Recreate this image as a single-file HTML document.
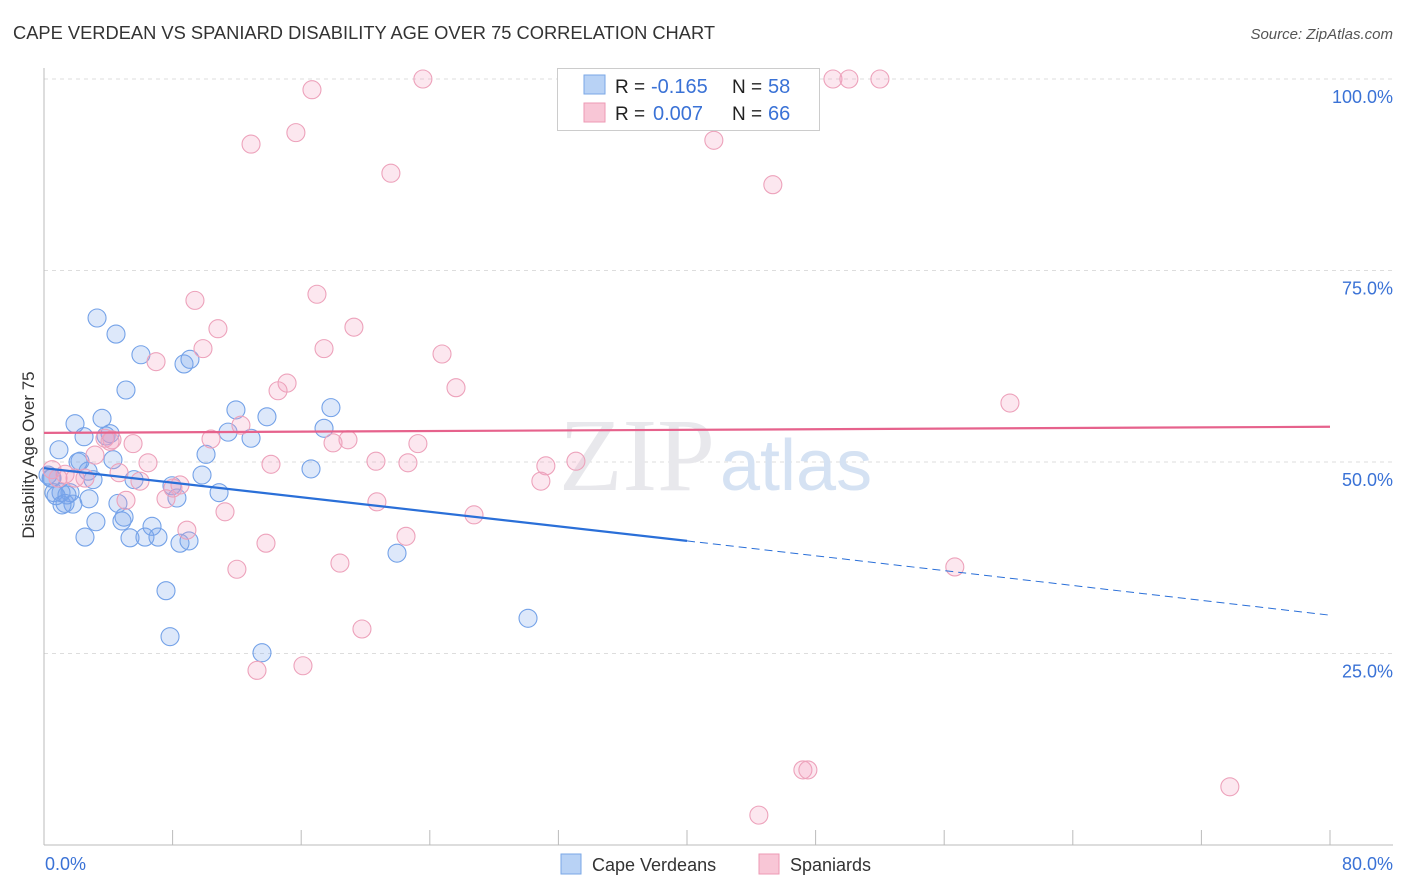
<!DOCTYPE html>
<html><head><meta charset="utf-8"><style>
body{margin:0;background:#fff;font-family:"Liberation Sans",sans-serif;}
svg{display:block}
</style></head><body>
<svg id="chart" width="1406" height="892" xmlns="http://www.w3.org/2000/svg">
<text x="13" y="39" font-size="18.3" fill="#333" textLength="702">CAPE VERDEAN VS SPANIARD DISABILITY AGE OVER 75 CORRELATION CHART</text>
<text x="1393" y="39" font-size="15" fill="#555" text-anchor="end" font-style="italic">Source: ZipAtlas.com</text>
<text transform="translate(34,455) rotate(-90)" font-size="17" fill="#333" text-anchor="middle">Disability Age Over 75</text>
<g id="grid"></g>
<text x="715" y="490" font-size="104" fill="#e8e8ec" text-anchor="end" font-family="Liberation Serif,serif">ZIP</text>
<text x="720" y="490" font-size="72" fill="#d5e2f3">atlas</text>
<g id="marks"></g>
<g>
<rect x="557.5" y="68.5" width="262" height="62" fill="#fff" stroke="#ccc"/>
<rect x="584" y="75" width="21" height="19" fill="#b8d2f5" stroke="#7aa7e6"/>
<rect x="584" y="103" width="21" height="19" fill="#f8c6d6" stroke="#ee9ab4"/>
<text x="615" y="93" font-size="19" fill="#222">R = </text><text x="651" y="93" font-size="20" fill="#3a72d6">-0.165</text>
<text x="732" y="93" font-size="19" fill="#222">N = </text><text x="768" y="93" font-size="20" fill="#3a72d6">58</text>
<text x="615" y="120" font-size="19" fill="#222">R = </text><text x="653" y="120" font-size="20" fill="#3a72d6">0.007</text>
<text x="732" y="120" font-size="19" fill="#222">N = </text><text x="768" y="120" font-size="20" fill="#3a72d6">66</text>
</g>
<g>
<rect x="561" y="854" width="20" height="20" fill="#b8d2f5" stroke="#7aa7e6"/>
<text x="592" y="871" font-size="18" fill="#333">Cape Verdeans</text>
<rect x="759" y="854" width="20" height="20" fill="#f8c6d6" stroke="#ee9ab4"/>
<text x="790" y="871" font-size="18" fill="#333">Spaniards</text>
</g>
<text x="45" y="870" font-size="18" fill="#3a72d6">0.0%</text>
<text x="1393" y="870" font-size="18" fill="#3a72d6" text-anchor="end">80.0%</text>
</svg>
<script>
const blueX=[3.30,4.48,6.03,8.71,9.08,5.10,1.93,3.61,2.49,4.11,3.86,0.93,2.24,4.29,2.12,2.74,3.05,5.60,0.44,0.62,1.06,1.62,1.31,1.80,1.12,2.80,4.60,3.23,4.85,4.98,6.72,2.55,5.35,6.28,7.09,7.96,8.27,8.46,9.02,9.83,10.08,10.89,11.45,11.94,12.88,13.87,16.61,17.42,17.85,21.96,30.11,7.59,7.84,13.56,0.50,0.25,0.75,1.43];
const blueY=[68.8,66.7,64.0,62.8,63.4,59.4,55.0,55.7,53.3,53.7,53.4,51.6,50.1,50.3,50.0,48.8,47.7,47.7,47.9,46.0,46.0,46.0,44.6,44.5,44.4,45.2,44.6,42.2,42.3,42.8,41.6,40.2,40.1,40.2,40.2,46.9,45.3,39.4,39.7,48.3,51.0,46.0,53.9,56.8,53.1,55.9,49.1,54.4,57.1,38.1,29.6,33.2,27.2,25.1,47.9,48.3,45.6,45.7];
const pinkX=[23.57,49.08,50.07,52.0,16.67,12.88,15.67,21.58,41.67,45.34,9.39,16.98,10.82,19.28,9.89,17.42,6.97,24.76,15.12,14.56,25.63,60.09,3.79,5.54,10.39,12.25,18.91,17.98,23.26,4.23,3.17,6.47,14.12,20.65,22.64,31.22,33.09,4.67,1.31,1.93,2.55,0.50,0.87,5.97,8.46,7.59,5.10,20.71,11.26,8.89,26.75,13.81,22.52,12.0,18.41,56.66,19.78,16.11,13.25,47.21,47.52,73.77,44.47,30.91,8.02,4.11];
const pinkY=[100,100,100,100,98.6,91.5,93.0,87.7,92.0,86.2,71.1,71.9,67.4,67.6,64.8,64.8,63.1,64.1,60.3,59.3,59.7,57.7,53.1,52.4,53.0,54.8,52.9,52.5,52.4,52.9,50.9,49.9,49.7,50.1,49.9,49.5,50.1,48.6,48.4,47.9,47.9,49.0,47.9,47.5,47.0,45.2,45.0,44.8,43.5,41.1,43.1,39.4,40.3,36.0,36.8,36.3,28.2,23.4,22.8,9.8,9.8,7.6,3.9,47.5,46.6,52.7];
const yTicks=[25,50,75,100];
const yTickLabels=["25.0%","50.0%","75.0%","100.0%"];
const xTicks=[0,8,16,24,32,40,48,56,64,72,80];
const blueTrend=[49.2,39.7,30.0];
const pinkTrend=[53.8,54.6];
const NS="http://www.w3.org/2000/svg";
const X0=44,X1=1330,Y0=845,Y100=79;
function sx(v){return X0+(v/80)*(X1-X0);}
function sy(v){return Y0-(v/100)*(Y0-Y100);}
function mk(tag,attrs,parent){const e=document.createElementNS(NS,tag);for(const k in attrs)e.setAttribute(k,attrs[k]);parent.appendChild(e);return e;}
const grid=document.getElementById('grid'),marks=document.getElementById('marks'),svg=document.getElementById('chart');
yTicks.forEach((t,i)=>{
 const l=mk('line',{x1:X0,x2:1393,y1:sy(t),y2:sy(t),stroke:'#ddd','stroke-dasharray':'4,4'},grid);
 
 
 const tx=mk('text',{x:1393,y:sy(t)+24,'font-size':18,fill:'#3a72d6','text-anchor':'end'},svg);
 tx.textContent=yTickLabels[i];
 
 
});
const ax=mk('line',{x1:X0,x2:X0,y1:68,y2:Y0,stroke:'#bbb'},grid);


const bx=mk('line',{x1:X0,x2:1393,y1:Y0,y2:Y0,stroke:'#bbb'},grid);


xTicks.forEach(t=>{
 const l=mk('line',{x1:sx(t),x2:sx(t),y1:Y0-15,y2:Y0,stroke:'#bbb'},grid);
 
 
});
function dots(xs,ys,fill,stroke,name){
 xs.forEach((x,i)=>{
  const c=mk('circle',{cx:sx(x),cy:sy(ys[i]),r:9,fill:fill,stroke:stroke,'stroke-width':1.1},marks);
  
  
 });
}
dots(blueX,blueY,'rgba(120,165,235,0.25)','#74a2e8','cape-verdean-point');
dots(pinkX,pinkY,'rgba(245,160,190,0.25)','#eda2bb','spaniard-point');
const b1=mk('line',{x1:sx(0),y1:sy(blueTrend[0]),x2:sx(40),y2:sy(blueTrend[1]),stroke:'#2a6fd8','stroke-width':2.2},marks);


const b2=mk('line',{x1:sx(40),y1:sy(blueTrend[1]),x2:sx(80),y2:sy(blueTrend[2]),stroke:'#2a6fd8','stroke-width':1,'stroke-dasharray':'8,5'},marks);


const p1=mk('line',{x1:sx(0),y1:sy(pinkTrend[0]),x2:sx(80),y2:sy(pinkTrend[1]),stroke:'#e6628c','stroke-width':2.2},marks);


</script>
</body></html>
